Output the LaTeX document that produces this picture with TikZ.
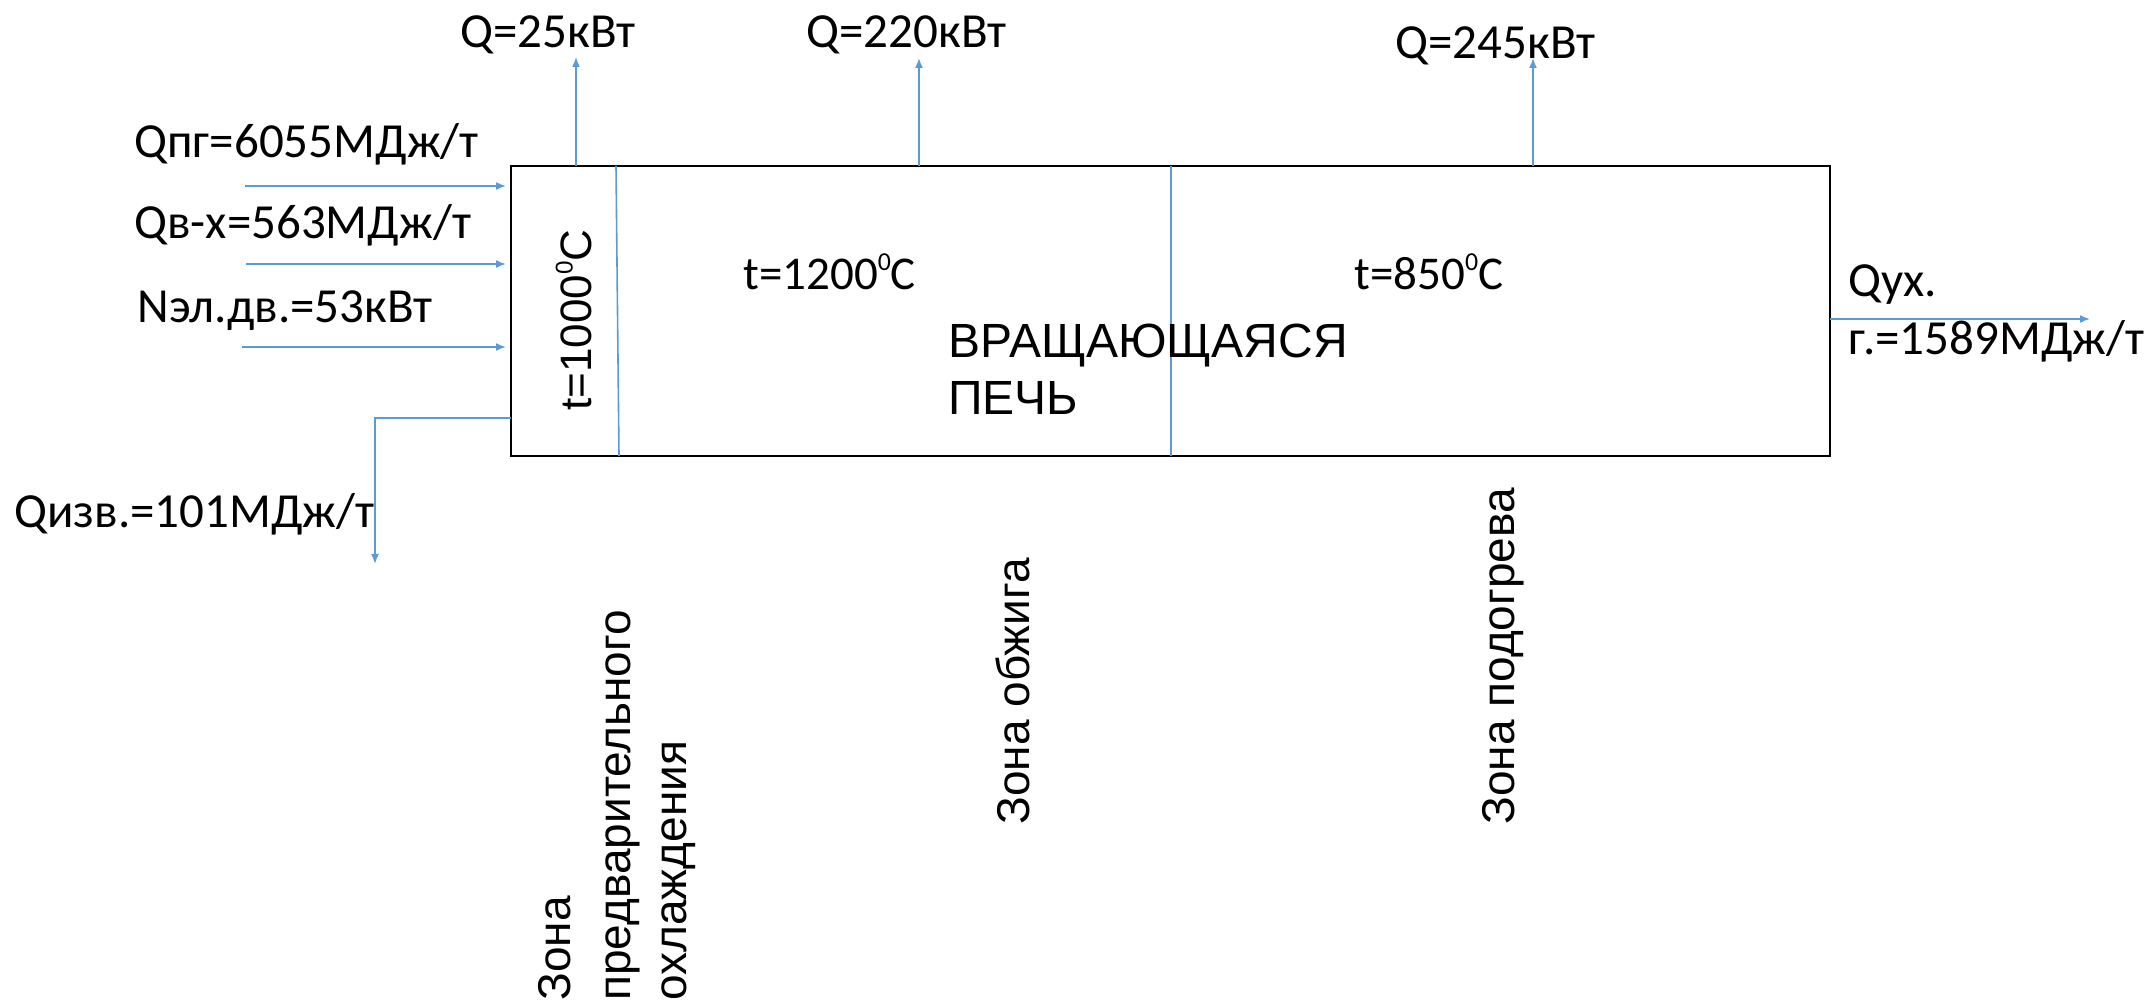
\documentclass[tikz,border=0pt]{standalone}
\usepackage{fontspec}
\setmainfont{Carlito}
\newfontfamily\arialf{Liberation Sans}
\usetikzlibrary{arrows.meta}
\definecolor{flowblue}{HTML}{5B9BD5}
\newcommand{\supzero}{\raisebox{0.42em}{\fontsize{0.55em}{0.6em}\selectfont 0}}
\begin{document}
\begin{tikzpicture}[x=0.5pt,y=-0.5pt,
  flow/.style={draw=flowblue, line width=0.8pt, -{Latex[length=5pt,width=4pt]}},
  zline/.style={draw=flowblue, line width=0.8pt},
  lbl/.style={font=\fontsize{24.5}{28}\selectfont, inner sep=0, anchor=base west},
  tlbl/.style={font=\fontsize{23.5}{27}\selectfont, inner sep=0, anchor=base west},
  albl/.style={font=\arialf\fontsize{24}{28}\selectfont, inner sep=0, anchor=base west},
  vlbl/.style={font=\arialf\fontsize{23}{28}\selectfont, inner sep=0, anchor=base west, rotate=90}]
\useasboundingbox (0,0) rectangle (2149,1004);
% kiln
\node[draw, line width=1.2pt, minimum width=659.5pt, minimum height=145pt, inner sep=0, outer sep=0] (kiln) at (1170.5,311) {};
% zone dividers
\coordinate (d1t) at (616,166); \coordinate (d1b) at (619,456);
\coordinate (d2t) at (1171,166); \coordinate (d2b) at (1171,456);
\draw[zline] (d1t) -- (d1b);
\draw[zline] (d2t) -- (d2b);
% inputs
\coordinate (i1) at (245,186); \coordinate (i2) at (246,264); \coordinate (i3) at (242,347);
\draw[flow, shorten >=2.5pt] (i1) -- (i1 -| kiln.west);
\draw[flow, shorten >=2.5pt] (i2) -- (i2 -| kiln.west);
\draw[flow, shorten >=2.5pt] (i3) -- (i3 -| kiln.west);
\node[lbl] (qpg) at (134,158) {Qпг=6055МДж/т};
\node[lbl] (qvx) at (134,239) {Qв-х=563МДж/т};
\node[lbl] (nel) at (137,323) {Nэл.дв.=53кВт};
% heat losses up
\coordinate (u1) at (576,57); \coordinate (u2) at (919,58); \coordinate (u3) at (1533,58);
\draw[flow] (u1 |- kiln.north) -- (u1);
\draw[flow] (u2 |- kiln.north) -- (u2);
\draw[flow] (u3 |- kiln.north) -- (u3);
\node[lbl] (q1) at (460,48) {Q=25кВт};
\node[lbl] (q2) at (806,48) {Q=220кВт};
\node[lbl] (q3) at (1395,59) {Q=245кВт};
% lime output
\coordinate (iz) at (508,418); \coordinate (ize) at (375,564);
\draw[flow] (iz -| kiln.west) -| (ize);
\node[lbl] (qiz) at (14,528) {Qизв.=101МДж/т};
% flue gas output
\coordinate (ux) at (2090,319);
\draw[flow] (ux -| kiln.east) -- (ux);
\node[lbl] (qux1) at (1848,297) {Qух.};
\node[lbl] (qux2) at (1848,355) {г.=1589МДж/т};
% temperatures
\node[tlbl] (t2) at (743,290) {t=1200\supzero C};
\node[tlbl] (t3) at (1354,290) {t=850\supzero C};
\node[vlbl, font=\arialf\fontsize{22}{26}\selectfont] (t1) at (591,411) {t=1000\supzero C};
\node[albl] (name1) at (948,358) {ВРАЩАЮЩАЯСЯ};
\node[albl] (name2) at (948,415) {ПЕЧЬ};
% zone names
\node[vlbl] (z1a) at (570,1001) {Зона};
\node[vlbl] (z1b) at (630,1001) {предварительного};
\node[vlbl] (z1c) at (686,1001) {охлаждения};
\node[vlbl] (z2) at (1029,825) {Зона обжига};
\node[vlbl] (z3) at (1514,825) {Зона подогрева};
\end{tikzpicture}
\end{document}
